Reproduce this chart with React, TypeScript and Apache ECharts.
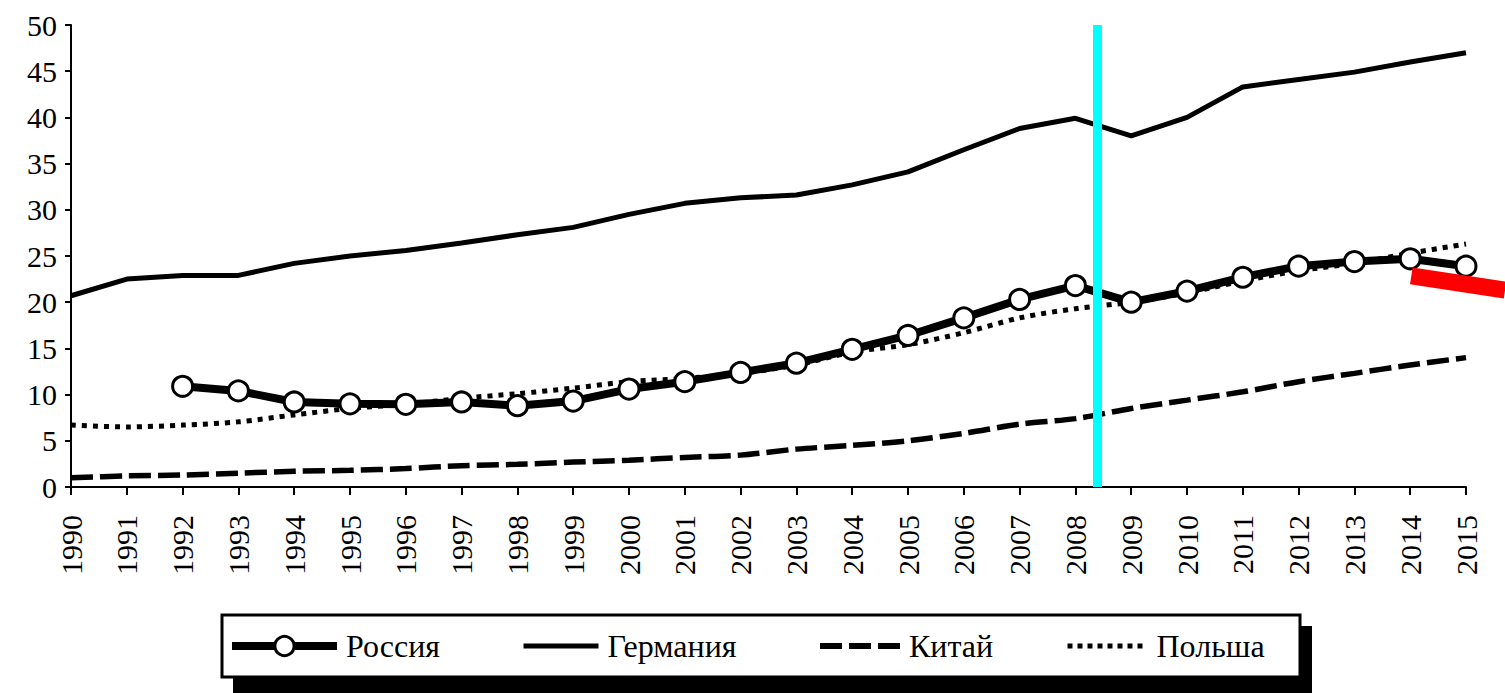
import React, { useEffect, useRef } from "react";
import * as echarts from "echarts";

const years = [1990, 1991, 1992, 1993, 1994, 1995, 1996, 1997, 1998, 1999, 2000, 2001, 2002, 2003, 2004, 2005, 2006, 2007, 2008, 2009, 2010, 2011, 2012, 2013, 2014, 2015];
const russia = [null, null, 10.9, 10.4, 9.2, 9.0, 8.95, 9.2, 8.8, 9.3, 10.6, 11.4, 12.4, 13.4, 14.9, 16.4, 18.3, 20.3, 21.8, 20.0, 21.2, 22.7, 23.9, 24.4, 24.7, 23.9];
const germany = [20.7, 22.5, 22.9, 22.9, 24.2, 25.0, 25.6, 26.4, 27.3, 28.1, 29.5, 30.7, 31.3, 31.6, 32.7, 34.1, 36.5, 38.8, 39.9, 38.0, 40.0, 43.3, 44.1, 44.9, 46.0, 47.0];
const china = [1.0, 1.2, 1.3, 1.5, 1.7, 1.8, 2.0, 2.3, 2.45, 2.7, 2.9, 3.2, 3.45, 4.1, 4.5, 5.0, 5.8, 6.8, 7.4, 8.5, 9.4, 10.3, 11.4, 12.3, 13.2, 14.0];
const poland = [6.7, 6.5, 6.7, 7.05, 7.8, 8.5, 8.95, 9.6, 10.1, 10.7, 11.4, 11.75, 12.3, 13.2, 14.6, 15.4, 16.7, 18.3, 19.3, 20.0, 21.0, 22.3, 23.4, 24.2, 25.3, 26.3];
const seriesNames = ["Россия", "Германия", "Китай", "Польша"];
const crisisYear = 2008.4;
const redArrow = [[2014.02, 22.84], [2015.7, 21.3]];

const FONT = "'Liberation Serif', 'DejaVu Serif', serif";

function pairs(vals: (number | null)[]) {
  const out: [number, number][] = [];
  vals.forEach((v, i) => {
    if (v !== null) out.push([years[i], v]);
  });
  return out;
}

export default function App() {
  const ref = useRef<HTMLDivElement>(null);
  useEffect(() => {
    if (!ref.current) return;
    const chart = echarts.init(ref.current, undefined, { renderer: "svg" });
    const legendText = { fontFamily: FONT, fontSize: 32, color: "#000", padding: [0, 0, 0, 4] };
    const legendDefs = [
      { name: seriesNames[0], left: 228, itemWidth: 105, line: { color: "#000", width: 8, type: "solid" }, item: { color: "#fff", borderColor: "#000", borderWidth: 3 } },
      { name: seriesNames[1], left: 521, itemWidth: 75, line: { color: "#000", width: 5, type: "solid" }, item: { color: "transparent", borderWidth: 0, opacity: 0 } },
      { name: seriesNames[2], left: 817, itemWidth: 80, line: { color: "#000", width: 6, type: [22, 7] }, item: { color: "transparent", borderWidth: 0, opacity: 0 } },
      { name: seriesNames[3], left: 1065, itemWidth: 80, line: { color: "#000", width: 5, type: [5, 5] }, item: { color: "transparent", borderWidth: 0, opacity: 0 } },
    ];
    const option: any = {
      animation: false,
      backgroundColor: "#fff",
      grid: { left: 71, right: 39, top: 25, bottom: 206, containLabel: false },
      xAxis: {
        type: "value",
        min: 1990,
        max: 2015,
        interval: 1,
        axisLine: { lineStyle: { color: "#000", width: 2 } },
        axisTick: { show: true, inside: false, length: 8, lineStyle: { color: "#000", width: 2 } },
        splitLine: { show: false },
        axisLabel: {
          rotate: 90,
          margin: 28,
          color: "#000",
          fontFamily: FONT,
          fontSize: 30,
          formatter: (v: number) => String(v),
        },
      },
      yAxis: {
        type: "value",
        min: 0,
        max: 50,
        interval: 5,
        axisLine: { show: true, lineStyle: { color: "#000", width: 2 } },
        axisTick: { show: true, inside: false, length: 6, lineStyle: { color: "#000", width: 2 } },
        splitLine: { show: false },
        axisLabel: { margin: 14, color: "#000", fontFamily: FONT, fontSize: 30 },
      },
      legend: legendDefs.map((l) => ({
        data: [l.name],
        left: l.left,
        top: 630,
        itemWidth: l.itemWidth,
        itemHeight: 24,
        padding: 0,
        selectedMode: false,
        lineStyle: l.line,
        itemStyle: l.item,
        textStyle: legendText,
      })),
      graphic: [
        { type: "rect", id: "shadow", shape: { x: 233, y: 626, width: 1079, height: 67 }, style: { fill: "#000" }, z: -2 },
        { type: "rect", id: "frame", shape: { x: 222, y: 615, width: 1078, height: 62 }, style: { fill: "#fff", stroke: "#000", lineWidth: 3 }, z: -1 },
      ],
      series: [
        {
          name: seriesNames[1],
          type: "line",
          data: pairs(germany),
          symbol: "none",
          lineStyle: { color: "#000", width: 5 },
          itemStyle: { color: "#000" },
          z: 2,
          markLine: {
            silent: true,
            symbol: "none",
            label: { show: false },
            lineStyle: { color: "#00FFFF", width: 9, type: "solid" },
            data: [{ xAxis: crisisYear }],
            z: 10,
          },
        },
        {
          name: seriesNames[2],
          type: "line",
          data: pairs(china),
          symbol: "none",
          smooth: 0.3,
          lineStyle: { color: "#000", width: 5.5, type: [22, 7] },
          itemStyle: { color: "#000" },
          z: 2,
        },
        {
          name: seriesNames[3],
          type: "line",
          data: pairs(poland),
          symbol: "none",
          smooth: 0.3,
          lineStyle: { color: "#000", width: 5, type: [5, 6] },
          itemStyle: { color: "#000" },
          z: 3,
        },
        {
          name: seriesNames[0],
          type: "line",
          data: pairs(russia),
          symbol: "circle",
          symbolSize: 20,
          lineStyle: { color: "#000", width: 8 },
          itemStyle: { color: "#fff", borderColor: "#000", borderWidth: 3 },
          z: 5,
        },
      ],
    };
    chart.setOption(option);
    const p0 = chart.convertToPixel({ gridIndex: 0 }, redArrow[0]) as number[];
    const p1 = chart.convertToPixel({ gridIndex: 0 }, redArrow[1]) as number[];
    chart.setOption({
      graphic: [
        {
          type: "line",
          id: "red",
          shape: { x1: p0[0], y1: p0[1], x2: p1[0], y2: p1[1] },
          style: { stroke: "#FF0000", lineWidth: 17, lineCap: "butt" },
          z: 100,
        },
      ],
    });
    return () => chart.dispose();
  }, []);
  return <div ref={ref} style={{ width: 1505, height: 693, position: "absolute", left: 0, top: 0 }} />;
}
